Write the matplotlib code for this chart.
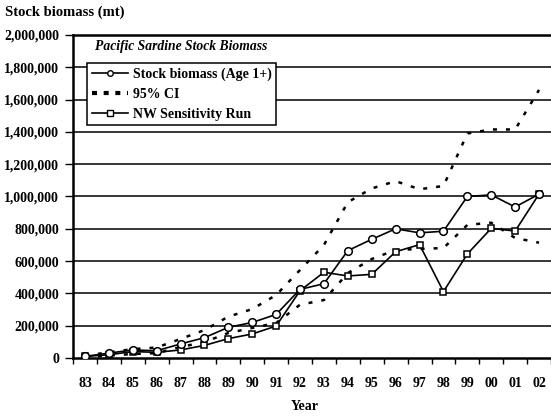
import matplotlib
matplotlib.use('Agg')
import matplotlib.pyplot as plt
from matplotlib.ticker import FuncFormatter
import numpy as np

# Data
years = ['83', '84', '85', '86', '87', '88', '89', '90', '91', '92',
         '93', '94', '95', '96', '97', '98', '99', '00', '01', '02']
biomass = [10000, 30000, 50000, 45000, 87000, 126000, 190000, 220000, 270000, 425000,
           460000, 665000, 735000, 800000, 775000, 785000, 1000000, 1010000, 935000, 1015000]
ci_upper = [15000, 35000, 55000, 65000, 118000, 173000, 256000, 303000, 390000, 545000,
            700000, 965000, 1050000, 1095000, 1045000, 1065000, 1390000, 1415000, 1415000, 1660000]
ci_lower = [5000, 15000, 25000, 30000, 68000, 99000, 155000, 186000, 217000, 330000,
            359000, 526000, 613000, 669000, 675000, 681000, 824000, 838000, 743000, 714000]
nw_run = [10000, 20000, 40000, 35000, 50000, 78000, 120000, 149000, 198000, 417000,
          531000, 508000, 518000, 658000, 702000, 411000, 644000, 803000, 786000, 1015000]

plt.rcParams['font.family'] = 'Liberation Serif'
plt.rcParams['font.weight'] = 'bold'

fig = plt.figure(figsize=(5.51, 4.16), dpi=100)
ax = fig.add_axes([0.1325, 0.1394, 0.8675, 0.7765])

x = np.arange(len(years))

for y in range(200000, 2000001, 200000):
    ax.axhline(y, color='black', lw=1.1, zorder=1)

ax.plot(x, ci_upper, color='black', lw=1.8, ls=(0, (1.6, 3.6)), zorder=2)
ax.plot(x, ci_lower, color='black', lw=1.8, ls=(0, (1.6, 3.6)), zorder=2)
ax.plot(x, biomass, color='black', lw=1.2, marker='o', ms=5.5, mfc='white',
        mec='black', mew=1.1, zorder=4)
ax.plot(x, nw_run, color='black', lw=1.2, marker='s', ms=4.5, mfc='white',
        mec='black', mew=1.1, zorder=3)

# legend handles in the original order
h_bio = plt.Line2D([], [], color='black', lw=1.2, marker='o', ms=4, mfc='white', mec='black')
h_ci = plt.Line2D([], [], color='black', lw=3, ls=(0, (1.2, 1.6)))
h_nw = plt.Line2D([], [], color='black', lw=1.2, marker='s', ms=4, mfc='white', mec='black')
leg = ax.legend([h_bio, h_ci, h_nw], ['Stock biomass (Age 1+)', '95% CI', 'NW Sensitivity Run'],
                loc='upper left', bbox_to_anchor=(0.03, 0.913), fancybox=False,
                framealpha=1, edgecolor='black', fontsize=10, handlelength=2.6,
                handletextpad=0.4, borderpad=0.3, labelspacing=0.5, borderaxespad=0)
leg.get_frame().set_linewidth(1.1)
leg.set_zorder(5)

ax.text(0.045, 0.985, 'Pacific Sardine Stock Biomass', transform=ax.transAxes,
        fontsize=9.8, style='italic', fontweight='bold', va='top', ha='left')

ax.set_xlim(-0.5, len(years) - 0.5)
ax.set_ylim(0, 2000000)
ax.set_yticks(range(0, 2000001, 200000))
ax.yaxis.set_major_formatter(FuncFormatter(lambda v, p: f'{int(v):,}'))
ax.set_xticks(x)
ax.set_xticklabels(years)
ax.set_xticks(np.arange(-0.5, len(years), 1), minor=True)
ax.tick_params(axis='x', which='major', length=0, pad=14, labelsize=10)
ax.tick_params(axis='x', which='minor', length=4, width=1.0, direction='out')
ax.tick_params(axis='y', length=6, width=1.0, direction='out', labelsize=10, pad=4)

ax.spines['right'].set_visible(False)
ax.spines['top'].set_linewidth(1.8)
ax.spines['left'].set_linewidth(1.8)
ax.spines['bottom'].set_linewidth(1.8)

fig.text(5 / 551, 1 - 12 / 416, 'Stock biomass (mt)', fontsize=10.5, fontweight='bold',
         ha='left', va='center')
fig.text(305 / 551, 1 - 406 / 416, 'Year', fontsize=10, fontweight='bold',
         ha='center', va='center')

fig.savefig('out.png', dpi=100)
